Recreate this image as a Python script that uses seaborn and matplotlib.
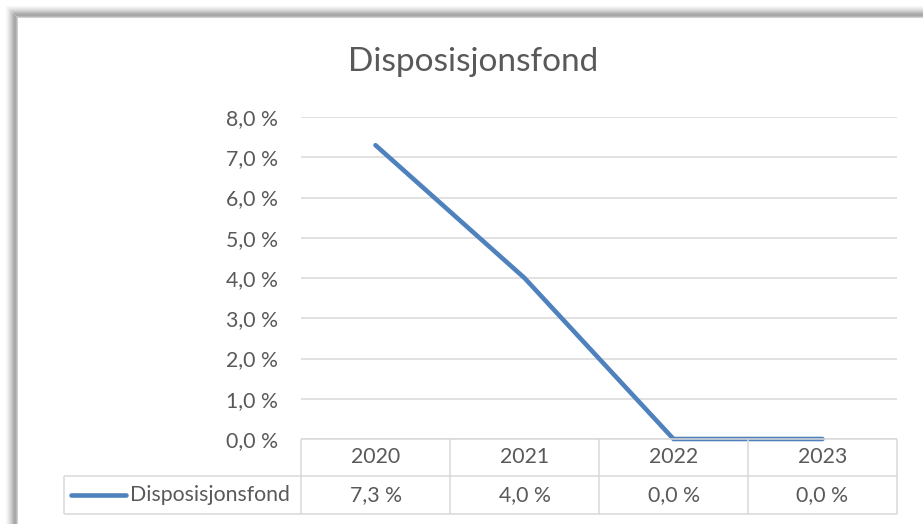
import matplotlib
matplotlib.use("Agg")
import matplotlib.pyplot as plt
from matplotlib.lines import Line2D
import pandas as pd
import seaborn as sns

# data
years = ["2020", "2021", "2022", "2023"]
values = [7.3, 4.0, 0.0, 0.0]
series_name = "Disposisjonsfond"
y_ticks = [0, 1, 2, 3, 4, 5, 6, 7, 8]

W, H = 923, 524
LINE_BLUE = "#4F81BD"
GRID = "#D9D9D9"
TEXT = "#595959"
FS = 15.3


def pct(v):
    return f"{v:.1f} %".replace(".", ",")


def fx(px):
    return px / W


def fy(py):
    return 1 - py / H


def hline(fig, x0, x1, y, color=GRID, lw=1.1):
    fig.add_artist(Line2D([fx(x0), fx(x1)], [fy(y), fy(y)], transform=fig.transFigure,
                          color=color, lw=lw, solid_capstyle="butt"))


def vline(fig, x, y0, y1, color=GRID, lw=1.1):
    fig.add_artist(Line2D([fx(x), fx(x)], [fy(y0), fy(y1)], transform=fig.transFigure,
                          color=color, lw=lw, solid_capstyle="butt"))


sns.set_theme(style="white")
plt.rcParams["font.family"] = ["Lato", "DejaVu Sans"]

fig = plt.figure(figsize=(W / 100, H / 100), dpi=100)
fig.patch.set_facecolor("white")

# plot area
left, right, top, bottom = 301, 897, 117, 439
ax = fig.add_axes([fx(left), fy(bottom), fx(right) - fx(left), fy(top) - fy(bottom)])
df = pd.DataFrame({"pos": range(len(years)), "value": values})
sns.lineplot(data=df, x="pos", y="value", ax=ax, color=LINE_BLUE, linewidth=3.3,
             solid_capstyle="round", solid_joinstyle="round", clip_on=False, zorder=5)
ax.set_xlim(-0.5, len(years) - 0.5)
ax.set_ylim(0, 8)
ax.set_yticks(y_ticks)
ax.set_yticklabels([pct(t) for t in y_ticks])
ax.set_xticks([])
ax.set_xlabel("")
ax.set_ylabel("")
ax.tick_params(axis="y", length=0, pad=16.5, labelsize=FS, labelcolor=TEXT)
ax.grid(axis="y", color=GRID, lw=1.1)
ax.set_axisbelow(True)
for s in ax.spines.values():
    s.set_visible(False)

# title
fig.text(fx(473), fy(71), series_name, ha="center", va="baseline", fontsize=24, color=TEXT)

# data table
col_w = (right - left) / len(years)
row_mid, row_bot = 476, 514
leg_left = 64
hline(fig, left, right, bottom)
hline(fig, leg_left, right, row_mid)
hline(fig, leg_left, right, row_bot)
vline(fig, leg_left, row_mid, row_bot)
for i in range(len(years) + 1):
    vline(fig, left + i * col_w, bottom, row_bot)
for i, (yr, v) in enumerate(zip(years, values)):
    cx = left + (i + 0.5) * col_w
    fig.text(fx(cx), fy(457), yr, ha="center", va="center", fontsize=FS, color=TEXT)
    fig.text(fx(cx), fy(495), pct(v), ha="center", va="center", fontsize=FS, color=TEXT)
fig.add_artist(Line2D([fx(71), fx(126)], [fy(495), fy(495)], transform=fig.transFigure,
                      color=LINE_BLUE, lw=3.3, solid_capstyle="round"))
fig.text(fx(130), fy(495), series_name, ha="left", va="center", fontsize=FS, color=TEXT)

# shadowed frame (left and top)
shades = ["#F8F8F8", "#F2F2F2", "#EAEAEA", "#E0E0E0", "#D6D6D6", "#CBCBCB",
          "#BEBEBE", "#B2B2B2", "#A8A8A8", "#A8A8A8", "#B8B8B8", "#D0D0D0"]
for k, c in enumerate(shades):
    p = 6 + k
    hline(fig, p, W, p, color=c, lw=0.75)
    vline(fig, p, p, H, color=c, lw=0.75)

fig.savefig("out.png", dpi=100)
